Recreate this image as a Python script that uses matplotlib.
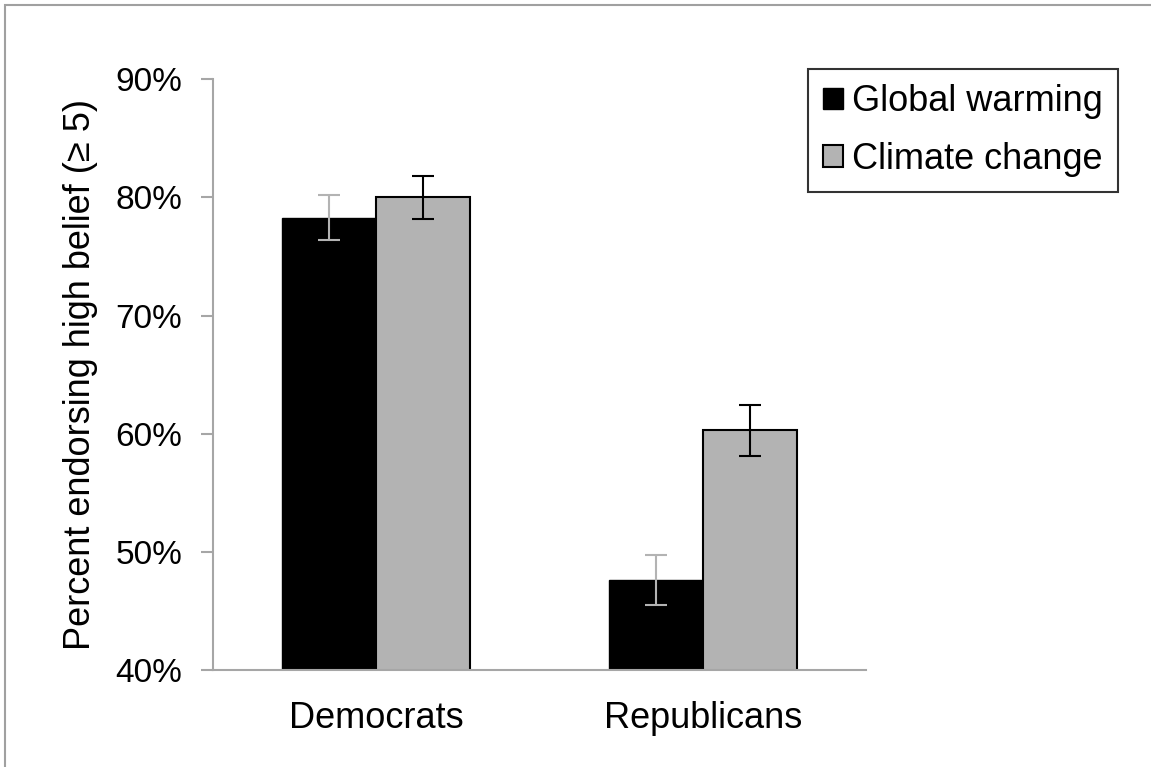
import numpy as np
import matplotlib.pyplot as plt
from matplotlib.patches import Rectangle

plt.rcParams['font.family'] = ['Liberation Sans', 'DejaVu Sans']

groups = ['Democrats', 'Republicans']
series = ['Global warming', 'Climate change']
global_warming = [78.3, 47.6]
climate_change = [80.0, 60.3]
gw_err = [1.9, 2.1]
cc_err = [1.8, 2.15]
yticks = [40, 50, 60, 70, 80, 90]

fig = plt.figure(figsize=(11.51, 7.67), dpi=100)
ax = fig.add_axes([213 / 1151, 1 - 670 / 767, 653 / 1151, (670 - 79.3) / 767])

x = np.arange(len(groups))
w = 0.288
ax.bar(x - w / 2, global_warming, w, color='black', edgecolor='black',
       linewidth=1, label=series[0], zorder=2)
ax.bar(x + w / 2, climate_change, w, color='#b3b3b3', edgecolor='black',
       linewidth=1.5, label=series[1], zorder=2)
ax.errorbar(x - w / 2, global_warming, yerr=gw_err, fmt='none', ecolor='#b3b3b3',
            elinewidth=1.5, capsize=8, capthick=1.5, zorder=3)
ax.errorbar(x + w / 2, climate_change, yerr=cc_err, fmt='none', ecolor='black',
            elinewidth=1.5, capsize=8, capthick=1.5, zorder=3)

ax.set_xlim(-0.5, 1.5)
ax.set_ylim(40, 90)
ax.set_yticks(yticks)
ax.set_yticklabels(['%d%%' % t for t in yticks], fontsize=24)
ax.set_xticks(x)
ax.set_xticklabels(groups, fontsize=26)
ax.tick_params(axis='x', length=0, pad=22)
ax.tick_params(axis='y', length=9, width=1.5, color='#a6a6a6', pad=13)
for s in ['top', 'right']:
    ax.spines[s].set_visible(False)
for s in ['left', 'bottom']:
    ax.spines[s].set_color('#a6a6a6')
    ax.spines[s].set_linewidth(1.5)
ax.set_ylabel('Percent endorsing high belief (\u2265 5)', fontsize=26, labelpad=13)

leg = ax.legend(loc='upper left', bbox_to_anchor=(808 / 1151, 1 - 69 / 767),
                bbox_transform=fig.transFigure, fontsize=26, frameon=True,
                fancybox=False, edgecolor='black', handlelength=0.55,
                handleheight=0.55, handletextpad=0.25, borderpad=0.42,
                labelspacing=0.62, borderaxespad=0)
leg.get_frame().set_linewidth(1.5)

# gray border around the chart area
fig.patches.append(Rectangle((5 / 1151, -0.1), 1.2, 1 - 5 / 767 + 0.1,
                             transform=fig.transFigure, fill=False,
                             edgecolor='#a0a0a0', linewidth=1.5))

fig.savefig('out.png', dpi=100)
